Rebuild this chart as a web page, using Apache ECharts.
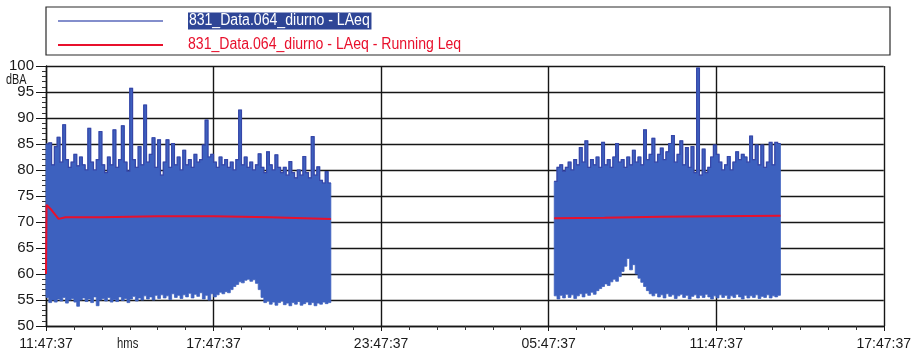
<!DOCTYPE html>
<html>
<head>
<meta charset="utf-8">
<script src="https://cdn.jsdelivr.net/npm/echarts@6/dist/echarts.min.js"></script>
<style>
  html, body { margin: 0; padding: 0; background: #fff; }
  #chart { width: 914px; height: 358px; }
</style>
</head>
<body>
<div id="chart"></div>
<script>
// LAeq noise record, two measurement sessions, with the running Leq.
const bandName = '831_Data.064_diurno - LAeq';
const leqName = '831_Data.064_diurno - LAeq - Running Leq';

// time axis: hours since 11:47:37, one tick label every 6 h
const xTickLabels = ['11:47:37', '17:47:37', '23:47:37', '05:47:37', '11:47:37', '17:47:37'];
const sampleStep = 0.1;     // hours per LAeq sample (6 min)
const session1Start = 0;
const session2Start = 18.2;

// session 1: per-sample maximum and minimum LAeq (dBA)
const session1High = [
  85, 85.2, 81, 84.5, 86.3, 81.5, 88.7, 82, 80.5, 81.5,
  83, 80.8, 82.5, 81, 80, 88, 81.5, 80, 82, 87.4,
  81, 79.5, 82.5, 81, 87.7, 80.5, 82, 88.5, 81.5, 79.8,
  95.7, 82, 80.5, 84.5, 81, 92.5, 81.5, 83, 86.2, 80.5,
  85.8, 79, 81.5, 85.8, 80.5, 85.1, 81, 82.5, 80, 83.8,
  81, 82, 80.5, 83, 81.5, 82, 84.8, 89.6, 82.5, 83,
  81.5, 80.5, 82.5, 81, 82, 80.5, 81.5, 80, 82, 91.5,
  81, 82.5, 80.5, 81.5, 80, 81, 83.1, 80.5, 79.5, 83.5,
  81, 80, 82.9, 80.5, 79.5, 80.5, 79, 81.6, 79.5, 78.5,
  80, 79, 82.6, 79.5, 78.5, 86.4, 79, 80.6, 78, 77.5,
  79.7, 77.5
];
const session1Low = [
  55.5, 54.5, 55, 54.6, 55.2, 54.8, 55.5, 54.4, 55, 55.3,
  54.6, 53.8, 55, 55.4, 54.7, 55.2, 54.5, 55.6, 53.9, 55,
  55.3, 54.8, 55.5, 54.6, 55.1, 54.7, 55.6, 54.9, 55.3, 54.5,
  55.2, 55.7, 54.8, 55.4, 55, 55.8, 55.2, 55.6, 55, 55.9,
  55.3, 56, 55.4, 55.8, 55.1, 56.2, 55.5, 55.9, 55.3, 56,
  55.6, 56.3, 55.4, 56.1, 55.7, 56.4, 55.2, 55.9, 55, 56.2,
  55.6, 56, 56.5, 56.2, 56.6, 56.4, 57, 57.6, 58, 58.5,
  58.3, 58.8, 59, 58.6, 58.9, 58.2, 57, 55.5, 54.5, 54.8,
  54.2, 54.6, 54, 54.5, 54.8, 54.1, 54.4, 53.9, 54.5, 54.2,
  54.7, 54, 54.3, 54.6, 54.1, 54.5, 53.9, 54.4, 54.2, 54.6,
  54.3, 54.5
];

// session 2: per-sample maximum and minimum LAeq (dBA)
const session2High = [
  77.8, 80.5, 81, 79.8, 80.5, 81.5, 80, 82, 81, 84.3,
  81.5, 85.6, 80.5, 82, 81, 82.5, 80.5, 85.3, 81, 82,
  80.5, 82.5, 85.1, 81.5, 82, 80.5, 82.5, 81, 83.8, 81.5,
  82.5, 81, 87.7, 82, 83, 86.1, 81.5, 83, 84.2, 82,
  83.5, 85.1, 86.6, 81.5, 83, 85.6, 81, 84.3, 80.5, 84.5,
  79.5, 99.6, 79, 84, 79.5, 80.5, 82.5, 84.8, 83, 81.5,
  80, 81, 82.6, 80, 81.5, 83.5, 82, 83, 82.5, 81.5,
  86.5, 82, 84.8, 81, 84.8, 80.5, 81.5, 85.3, 81, 85.3,
  85.1
];
const session2Low = [
  55.8, 55.2, 55.9, 55.4, 56.1, 55.5, 56, 55.3, 55.8, 56.2,
  55.6, 56.3, 55.9, 56.5, 56.1, 56.8, 57.2, 57.6, 58.1, 57.8,
  58.5, 59, 58.6, 59.5, 60.5, 61.5, 63, 60.8, 61.8, 60,
  59.2, 58.4, 57.6, 56.8, 56.2, 55.8, 56.3, 55.6, 56, 55.4,
  56.2, 55.7, 56, 55.3, 55.8, 56.1, 55.5, 55.9, 55.2, 55.7,
  56, 55.4, 55.9, 55.5, 56.1, 55.6, 55.2, 55.8, 55.4, 56,
  55.5, 55.9, 55.3, 55.8, 55.5, 56.1, 55.6, 55.2, 55.9, 55.4,
  55.8, 55.5, 56, 55.3, 55.7, 55.5, 56, 55.4, 55.8, 55.6,
  55.9
];

// running Leq (hours, dBA); null splits the two sessions
const leqHours = [0, 0.02, 0.2, 0.45, 0.7, 2, 4, 6, 8, 10.2, 14, 18.2, 20, 22, 24, 26.3];
const leqValues = [60, 73.3, 72.3, 70.6, 70.9, 70.9, 71.1, 71.1, 70.9, 70.6, null, 70.7, 70.8, 71.0, 71.1, 71.2];

const FONT = "'Liberation Sans', Arial, sans-serif";
const BAND = '#3d61bf';
const BAND_EDGE = '#3646a8';
const GRID_LINE = '#161616';
const LEQ_RED = '#e8102c';
const TEXT = '#1a1a1a';

const sessions = [
  { start: session1Start, highs: session1High, lows: session1Low },
  { start: session2Start, highs: session2High, lows: session2Low }
];
const leqData = leqHours.map((h, i) => [h, leqValues[i]]);

// one filled envelope per session: each sample holds for one step,
// top edge along the maxima, bottom edge back along the minima
function renderSession(params, api) {
  const s = sessions[api.value(2)];
  const top = [], bottom = [];
  s.highs.forEach((hi, i) => {
    const t0 = s.start + i * sampleStep, t1 = t0 + sampleStep;
    top.push(api.coord([t0, hi]), api.coord([t1, hi]));
    bottom.push(api.coord([t0, s.lows[i]]), api.coord([t1, s.lows[i]]));
  });
  const outline = top.concat(bottom.slice().reverse());
  return {
    type: 'group',
    children: [
      { type: 'polygon', shape: { points: outline }, style: { fill: BAND, stroke: BAND, lineWidth: 0.8 } },
      { type: 'polyline', shape: { points: top }, style: { fill: null, stroke: BAND_EDGE, lineWidth: 1.2 } }
    ]
  };
}

// condensed caption text
function caption(text, x, y, scale, style) {
  return {
    type: 'text', x: x, y: y, scaleX: scale,
    style: Object.assign({ text: text, font: '16px ' + FONT, fill: TEXT, verticalAlign: 'middle' }, style || {})
  };
}

const chart = echarts.init(document.getElementById('chart'), null, { renderer: 'canvas' });
chart.setOption({
  animation: false,
  backgroundColor: '#fff',
  textStyle: { fontFamily: FONT },
  grid: { left: 46, right: 24, top: 66, bottom: 32 },
  graphic: [
    { type: 'rect', shape: { x: 46, y: 7, width: 844, height: 48 }, style: { fill: 'none', stroke: '#2a2a2a', lineWidth: 1.2 } },
    { type: 'line', shape: { x1: 58, y1: 21, x2: 163, y2: 21 }, style: { stroke: '#5a68bb', lineWidth: 1.5 } },
    { type: 'line', shape: { x1: 58, y1: 45, x2: 163, y2: 45 }, style: { stroke: LEQ_RED, lineWidth: 2 } },
    caption(bandName, 188, 21, 0.88, { fill: '#ffffff', backgroundColor: '#2e4596', padding: [1, 2, 0, 1] }),
    caption(leqName, 188, 45, 0.88, { fill: LEQ_RED }),
    caption('dBA', 6, 80, 0.72, { font: '15px ' + FONT }),
    caption('hms', 117, 344, 0.75, { font: '15px ' + FONT })
  ],
  xAxis: {
    type: 'value',
    min: 0,
    max: 30,
    interval: 6,
    axisLine: { show: true, lineStyle: { color: GRID_LINE, width: 1.4 } },
    axisTick: { show: true, length: 5, lineStyle: { color: GRID_LINE } },
    minorTick: { show: true, splitNumber: 6, length: 4, lineStyle: { color: '#333' } },
    splitLine: { show: true, lineStyle: { color: GRID_LINE, width: 1.4 } },
    axisLabel: {
      margin: 11,
      fontFamily: FONT,
      fontSize: 14,
      color: TEXT,
      formatter: v => xTickLabels[Math.round(v / 6)]
    }
  },
  yAxis: {
    type: 'value',
    min: 50,
    max: 100,
    interval: 5,
    axisLine: { show: true, lineStyle: { color: GRID_LINE, width: 1.4 } },
    axisTick: { show: true, length: 10, lineStyle: { color: GRID_LINE } },
    minorTick: { show: true, splitNumber: 5, length: 4, lineStyle: { color: '#333' } },
    splitLine: { show: true, lineStyle: { color: GRID_LINE, width: 1.4 } },
    axisLabel: { margin: 12, fontFamily: FONT, fontSize: 15, color: TEXT }
  },
  series: [
    {
      name: bandName,
      type: 'custom',
      itemStyle: { color: BAND },
      renderItem: renderSession,
      encode: { x: 0, y: 1 },
      data: sessions.map((s, k) => [s.start, s.lows[0], k]),
      z: 2
    },
    {
      name: leqName,
      type: 'line',
      data: leqData,
      showSymbol: false,
      connectNulls: false,
      lineStyle: { color: LEQ_RED, width: 2 },
      itemStyle: { color: LEQ_RED },
      z: 3
    }
  ]
});
</script>
</body>
</html>
